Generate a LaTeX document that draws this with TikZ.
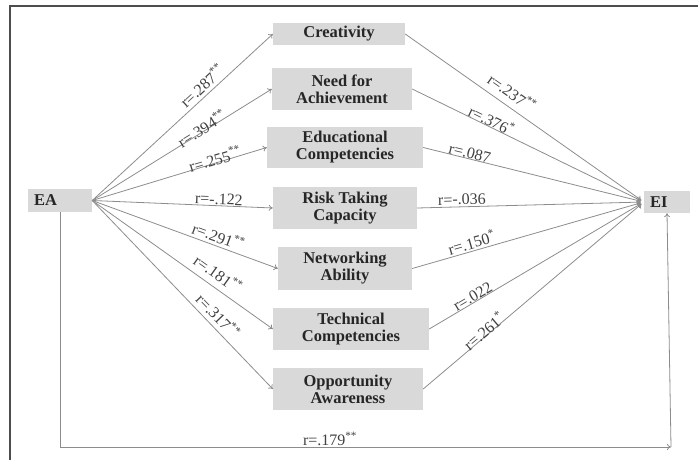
\documentclass[tikz,border=0pt]{standalone}
\usepackage{fontspec}
\setmainfont{Liberation Serif}
\usetikzlibrary{arrows.meta}
\definecolor{boxgray}{HTML}{D9D9D9}
\definecolor{linegray}{HTML}{8C8C8C}
\definecolor{framegray}{HTML}{4D4D4D}
\begin{document}
\begin{tikzpicture}[x=1pt,y=-1pt,
  box/.style={draw=none, fill=boxgray, align=center, font=\bfseries\fontsize{16.5}{17}\selectfont, text=black!85, inner sep=0pt},
  con/.style={draw=linegray, line width=0.8pt, -{To[length=4pt,width=6pt]}},
  lab/.style={font=\fontsize{16}{17}\selectfont, text=black!75, inner sep=1pt, sloped},
]
\useasboundingbox (0,0) rectangle (698,460);
\draw[framegray, line width=1.6pt] (10,460) -- (10,6) -- (698,6);

\node[box, minimum width=64pt, minimum height=23pt, text width=52pt, align=left] (EA) at (60,200.5) {EA};
\node[box, minimum width=46pt, minimum height=22pt, text width=34pt, align=left] (EI) at (667,202) {EI};

\node[box, minimum width=132pt, minimum height=22pt] (Cre) at (339,34) {Creativity};
\node[box, minimum width=140pt, minimum height=42pt] (Nee) at (342,89) {Need for\\Achievement};
\node[box, minimum width=156pt, minimum height=41pt] (Edu) at (345,147.5) {Educational\\Competencies};
\node[box, minimum width=144pt, minimum height=42pt] (Ris) at (345,208) {Risk Taking\\Capacity};
\node[box, minimum width=134pt, minimum height=43pt] (Net) at (345,268.5) {Networking\\Ability};
\node[box, minimum width=156pt, minimum height=42pt] (Tec) at (351,329) {Technical\\Competencies};
\node[box, minimum width=150pt, minimum height=42pt] (Opp) at (348,389) {Opportunity\\Awareness};

% EA to mediators
\draw[con] (EA.east) -- node[lab, pos=.645, above=2.1pt] {r=.287\textsuperscript{**}} (Cre.west);
\draw[con] (EA.east) -- node[lab, pos=.62, above=-4.5pt] {r=.394\textsuperscript{**}} (Nee.west);
\draw[con] (EA.east) -- node[lab, pos=.71, above=-4pt] {r=.255\textsuperscript{**}} (Edu.west);
\draw[con] (EA.east) -- node[lab, pos=.70, above=-0.5pt] {r=-.122} (Ris.west);
\draw[con] (EA.east) -- node[lab, pos=.662, above=1.8pt] {r=.291\textsuperscript{**}} (Net.west);
\draw[con] (EA.east) -- node[lab, pos=.654, above=5.3pt] {r=.181\textsuperscript{**}} (Tec.west);
\draw[con] (EA.east) -- node[lab, pos=.653, above=3.2pt] {r=.317\textsuperscript{**}} (Opp.west);

% mediators to EI
\draw[con, shorten >=3pt] (Cre.east) -- node[lab, pos=.415, above=5.6pt] {r=.237\textsuperscript{**}} (EI.west);
\draw[con, shorten >=3pt] (Nee.east) -- node[lab, pos=.33, above=-1.3pt] {r=.376\textsuperscript{*}} (EI.west);
\draw[con, shorten >=3pt] (Edu.east) -- node[lab, pos=.205, above=-1.2pt] {r=.087} (EI.west);
\draw[con, shorten >=3pt] (Ris.east) -- node[lab, pos=.198, above=0.5pt] {r=-.036} (EI.west);
\draw[con, shorten >=3pt] (Net.east) -- node[lab, pos=.267, above=0.7pt] {r=.150\textsuperscript{*}} (EI.west);
\draw[con, shorten >=3pt] (Tec.east) -- node[lab, pos=.216, above=-1.2pt] {r=.022} (EI.west);
\draw[con, shorten >=3pt] (Opp.east) -- node[lab, pos=.29, above=-2.9pt] {r=.261\textsuperscript{*}} (EI.west);

% direct path
\coordinate (corner) at (671,447);
\draw[con] (EA.south) |- node[lab, pos=.721, above=0pt] {r=.179\textsuperscript{**}} (corner);
\draw[con] (corner) -- (EI.south);
\end{tikzpicture}
\end{document}
